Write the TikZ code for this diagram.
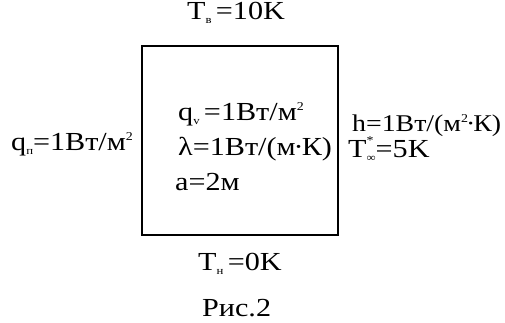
\documentclass[tikz,border=0pt]{standalone}
\usepackage{fontspec}
\setmainfont{Liberation Serif}[FakeStretch=1.16]
\usetikzlibrary{positioning}
\newcommand{\lowidx}[1]{\raisebox{-0.35ex}{\fontsize{11}{11}\selectfont #1}}
\newcommand{\upidx}[1]{\raisebox{0.8ex}{\fontsize{12}{12}\selectfont #1}}
\newcommand{\mdot}{\kern-2pt·\kern-2pt}
\newcommand{\starinf}{\rlap{\raisebox{1.05ex}{\fontsize{12}{12}\selectfont *}}\raisebox{-0.4ex}{\fontsize{11}{11}\selectfont ∞}}

\begin{document}
\begin{tikzpicture}[
  x=1pt, y=-1pt,
  plate/.style={rectangle, draw, line width=2pt, minimum width=196pt, minimum height=189pt, inner sep=0pt},
  lbl/.style={anchor=base west, inner sep=0pt, font=\fontsize{26}{26}\selectfont}
]
  \useasboundingbox (0,0) rectangle (505,322);
  \node[plate] (plate) at (240,140.5) {};

  \node[lbl] (tv) at (187,19) {T\lowidx{в}\,=10K};
  \node[lbl] (qn) at (11,150) {q\lowidx{п}=1Вт/м\upidx{2}};
  \node[lbl] (qv) at (178,120) {q\lowidx{v}\,=1Вт/м\upidx{2}};
  \node[lbl] (lam) at (178,155) {λ=1Вт/(м\mdot К)};
  \node[lbl] (side) at (175,190) {a=2м};
  \node[lbl, font=\fontsize{24}{24}\selectfont] (h) at (352,131) {h=1Вт/(м\upidx{2}\mdot К)};
  \node[lbl] (tinf) at (348,157) {T\starinf=5K};
  \node[lbl] (tn) at (198,270) {T\lowidx{н}\,=0K};
  \node[lbl] (cap) at (202,316) {Рис.2};
\end{tikzpicture}
\end{document}
